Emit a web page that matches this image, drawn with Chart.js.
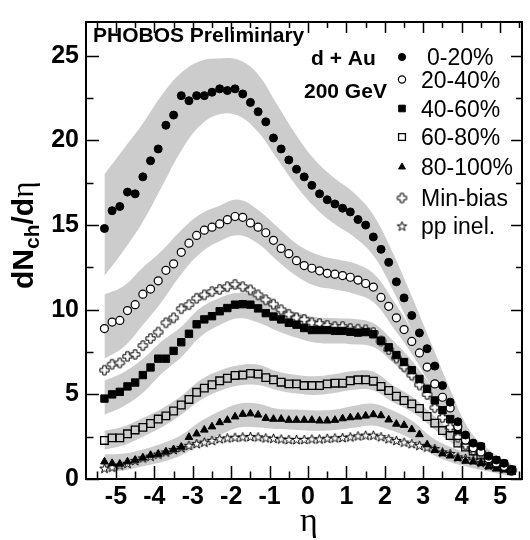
<!DOCTYPE html>
<html>
<head>
<meta charset="utf-8">
<script src="https://cdn.jsdelivr.net/npm/chart.js@4.4.1/dist/chart.umd.min.js"></script>
<style>
  html, body { margin: 0; padding: 0; background: #fff; }
  #wrap { width: 530px; height: 540px; }
</style>
</head>
<body>
<div id="wrap"><canvas id="dndeta"></canvas></div>
<script>
  // pseudorapidity bin centres
  const eta = [-5.3, -5.1, -4.9, -4.7, -4.5, -4.3, -4.1, -3.9, -3.7, -3.5, -3.3, -3.1, -2.9, -2.7, -2.5, -2.3, -2.1, -1.9, -1.7, -1.5, -1.3, -1.1, -0.9, -0.7, -0.5, -0.3, -0.1,
               0.1, 0.3, 0.5, 0.7, 0.9, 1.1, 1.3, 1.5, 1.7, 1.9, 2.1, 2.3, 2.5, 2.7, 2.9, 3.1, 3.3, 3.5, 3.7, 3.9, 4.1, 4.3, 4.5, 4.7, 4.9, 5.1, 5.3];

  // dN/deta per centrality class
  const c0_20 = [14.8, 15.85, 16.1, 16.95, 16.85, 17.85, 18.8, 19.5, 20.9, 21.5, 22.65, 22.35, 22.65, 22.65, 22.85, 23.05, 22.95, 23.05, 22.75, 22.25, 21.7, 21.1, 20.15, 19.5, 18.85, 18.3, 17.85,
                 17.35, 16.85, 16.5, 16.25, 16.0, 15.78, 15.33, 15.0, 14.3, 13.57, 12.8, 11.65, 10.7, 9.66, 8.63, 7.7, 6.67, 5.52, 4.54, 3.38, 2.6, 2.12, 1.93, 1.35, 1.12, 0.93, 0.54];
  const c20_40 = [8.89, 9.27, 9.37, 9.95, 10.3, 10.92, 11.22, 11.71, 12.33, 12.71, 13.39, 13.93, 14.39, 14.7, 14.88, 15.07, 15.32, 15.51, 15.46, 15.13, 14.88, 14.55, 14.1, 13.62, 13.31, 12.9, 12.61,
                  12.45, 12.3, 12.15, 12.1, 12.02, 11.92, 11.75, 11.55, 11.34, 10.73, 10.2, 9.52, 8.83, 8.13, 7.45, 6.61, 5.62, 4.83, 4.2, 3.1, 2.3, 1.85, 1.6, 1.2, 0.95, 0.75, 0.5];
  const c40_60 = [4.75, 5.0, 5.15, 5.47, 5.7, 6.14, 6.59, 7.11, 7.11, 7.57, 8.08, 8.58, 9.14, 9.43, 9.62, 9.91, 10.1, 10.3, 10.33, 10.3, 10.08, 9.8, 9.6, 9.43, 9.23, 9.12, 8.92,
                  8.8, 8.8, 8.8, 8.75, 8.75, 8.7, 8.65, 8.68, 8.55, 8.17, 7.78, 7.32, 6.91, 6.43, 5.91, 5.33, 4.64, 4.06, 3.54, 2.88, 2.28, 1.95, 1.9, 1.3, 1.1, 0.9, 0.55];
  const c60_80 = [2.28, 2.43, 2.43, 2.67, 2.9, 3.05, 3.28, 3.54, 3.73, 4.02, 4.37, 4.7, 5.12, 5.37, 5.57, 5.8, 5.95, 6.12, 6.14, 6.24, 6.2, 5.99, 5.86, 5.72, 5.62, 5.62, 5.52,
                  5.52, 5.52, 5.62, 5.66, 5.66, 5.8, 5.86, 5.86, 5.78, 5.47, 5.23, 4.89, 4.64, 4.44, 4.17, 3.69, 3.3, 2.86, 2.57, 2.12, 1.89, 1.65, 1.41, 1.1, 0.9, 0.75, 0.5];
  const c80_100 = [1.02, 0.93, 0.89, 1.02, 1.12, 1.25, 1.41, 1.47, 1.6, 1.74, 1.89, 2.47, 2.67, 2.9, 3.09, 3.34, 3.48, 3.68, 3.83, 3.86, 3.79, 3.59, 3.54, 3.54, 3.48, 3.48, 3.48,
                   3.48, 3.44, 3.44, 3.48, 3.57, 3.63, 3.67, 3.73, 3.81, 3.75, 3.5, 3.25, 3.18, 2.93, 2.63, 2.03, 1.7, 1.5, 1.37, 1.22, 1.06, 1.02, 0.93, 0.73, 0.6, 0.54, 0.44];
  const minBias = [6.43, 6.78, 6.86, 7.25, 7.36, 7.88, 8.3, 8.68, 9.23, 9.52, 10.06, 10.3, 10.68, 10.88, 11.07, 11.2, 11.36, 11.5, 11.36, 11.17, 10.88, 10.59, 10.33, 10.0, 9.73, 9.52, 9.43,
                   9.23, 9.18, 9.08, 9.0, 9.0, 8.89, 8.85, 8.81, 8.65, 8.15, 7.65, 7.15, 6.63, 6.14, 5.56, 4.99, 4.21, 3.63, 3.05, 2.47, 2.03, 1.7, 1.55, 1.2, 0.98, 0.78, 0.5];
  const ppInel = [0.64, 0.7, 0.83, 0.93, 1.1, 1.25, 1.35, 1.47, 1.6, 1.74, 1.86, 1.99, 2.09, 2.18, 2.28, 2.38, 2.43, 2.47, 2.49, 2.51, 2.49, 2.43, 2.41, 2.37, 2.34, 2.34, 2.34,
                  2.37, 2.37, 2.41, 2.43, 2.45, 2.49, 2.55, 2.59, 2.59, 2.5, 2.38, 2.28, 2.18, 2.09, 1.99, 1.89, 1.8, 1.6, 1.51, 1.31, 1.22, 1.12, 0.97, 0.83, 0.74, 0.64, 0.54];

  // systematic error bands (upper / lower edge)
  const bandEta = [-5.3, -4.8, -4.3, -3.8, -3.3, -2.8, -2.3, -1.8, -1.3, -0.8, -0.3, 0.2, 0.7, 1.2, 1.7, 2.2, 2.7, 3.2, 3.7, 4.2, 4.7, 5.3];
  const b0_20Hi = [18.0, 19.5, 21.0, 22.7, 24.0, 24.7, 24.85, 24.75, 23.9, 22.1, 20.3, 18.8, 17.75, 16.9, 15.6, 13.4, 10.8, 8.05, 5.3, 2.9, 1.75, 0.85];
  const b0_20Lo = [12.0, 13.5, 15.2, 17.3, 19.4, 20.9, 21.55, 21.45, 20.5, 18.9, 17.3, 16.0, 15.05, 14.3, 13.2, 11.2, 8.8, 6.35, 3.9, 1.9, 1.05, 0.35];
  const b20_40Hi = [10.9, 11.4, 12.5, 13.5, 14.7, 15.65, 16.15, 16.5, 15.9, 14.9, 13.9, 13.3, 13.0, 12.75, 12.15, 10.6, 8.8, 6.7, 4.7, 2.5, 1.5, 0.7];
  const b20_40Lo = [7.1, 7.8, 9.1, 10.5, 12.1, 13.35, 14.05, 14.4, 13.9, 12.9, 12.0, 11.4, 11.2, 10.95, 10.45, 9.0, 7.4, 5.5, 3.7, 1.7, 0.9, 0.3];
  const b40_60Hi = [5.8, 6.3, 7.1, 8.15, 9.0, 10.1, 10.7, 11.0, 10.85, 10.25, 9.85, 9.55, 9.5, 9.45, 9.2, 8.2, 7.0, 5.5, 3.95, 2.45, 1.55, 0.75];
  const b40_60Lo = [3.8, 4.3, 5.1, 6.25, 7.2, 8.4, 9.1, 9.5, 9.25, 8.75, 8.35, 8.05, 8.0, 7.95, 7.8, 6.9, 5.8, 4.5, 3.05, 1.75, 1.05, 0.35];
  const b60_80Hi = [2.85, 3.1, 3.6, 4.17, 4.9, 5.85, 6.4, 6.72, 6.75, 6.35, 6.15, 6.07, 6.2, 6.38, 6.33, 5.55, 4.87, 3.9, 2.9, 2.05, 1.35, 0.7];
  const b60_80Lo = [1.75, 2.0, 2.5, 3.07, 3.8, 4.65, 5.2, 5.52, 5.55, 5.25, 5.05, 4.97, 5.1, 5.28, 5.23, 4.55, 3.97, 3.1, 2.2, 1.45, 0.85, 0.3];
  const b80_100Hi = [1.45, 1.5, 1.75, 2.1, 2.6, 3.4, 4.0, 4.45, 4.45, 4.15, 4.1, 4.05, 4.1, 4.33, 4.45, 4.05, 3.45, 2.5, 1.9, 1.5, 1.15, 0.75];
  const b80_100Lo = [0.45, 0.5, 0.75, 1.0, 1.4, 2.1, 2.6, 3.05, 3.05, 2.95, 2.9, 2.85, 2.9, 3.03, 3.15, 2.85, 2.35, 1.5, 1.0, 0.7, 0.45, 0.15];

  const xTickLabels = [-5, -4, -3, -2, -1, 0, 1, 2, 3, 4, 5];
  const yTickLabels = [0, 5, 10, 15, 20, 25];
  const legendLabels = ['0-20%', '20-40%', '40-60%', '60-80%', '80-100%', 'Min-bias', 'pp inel.'];

  const BAND = '#cccccc';
  const SANS = '"Liberation Sans", Arial, sans-serif';

  function pts(xs, ys) {
    return xs.map((x, i) => ({ x: x, y: ys[i] }));
  }

  // hollow markers that Chart.js has no style for
  function markerCanvas(draw) {
    const c = document.createElement('canvas');
    c.width = 13; c.height = 13;
    const g = c.getContext('2d');
    draw(g, 6.5, 6.5);
    return c;
  }
  const openCross = markerCanvas((g, cx, cy) => {
    const a = 1.7, l = 4.6;
    g.beginPath();
    g.moveTo(cx - a, cy - l); g.lineTo(cx + a, cy - l); g.lineTo(cx + a, cy - a);
    g.lineTo(cx + l, cy - a); g.lineTo(cx + l, cy + a); g.lineTo(cx + a, cy + a);
    g.lineTo(cx + a, cy + l); g.lineTo(cx - a, cy + l); g.lineTo(cx - a, cy + a);
    g.lineTo(cx - l, cy + a); g.lineTo(cx - l, cy - a); g.lineTo(cx - a, cy - a);
    g.closePath();
    g.fillStyle = '#fff'; g.fill();
    g.lineWidth = 1; g.strokeStyle = '#000'; g.stroke();
  });
  const openStar = markerCanvas((g, cx, cy) => {
    g.beginPath();
    for (let k = 0; k < 10; k++) {
      const r = k % 2 ? 2.0 : 5.0;
      const ang = -Math.PI / 2 + k * Math.PI / 5;
      const px = cx + r * Math.cos(ang), py = cy + 0.5 + r * Math.sin(ang);
      if (k === 0) g.moveTo(px, py); else g.lineTo(px, py);
    }
    g.closePath();
    g.fillStyle = '#fff'; g.fill();
    g.lineWidth = 1; g.strokeStyle = '#000'; g.stroke();
  });

  // marker look for each series, shared by plot and legend
  const markers = [
    { style: 'circle', radius: 4.0, fill: '#000', border: 1 },
    { style: 'circle', radius: 4.0, fill: '#fff', border: 1.2 },
    { style: 'rect', radius: 5.2, fill: '#000', border: 1 },
    { style: 'rect', radius: 5.4, fill: 'rgba(0,0,0,0)', border: 1.3 },
    { style: 'triangle', radius: 4.4, fill: '#000', border: 1 },
    { style: openCross, radius: 5, fill: '#fff', border: 0 },
    { style: openStar, radius: 5, fill: '#fff', border: 0 }
  ];
  const series = [c0_20, c20_40, c40_60, c60_80, c80_100, minBias, ppInel];

  function bandSets(hi, lo) {
    return [
      { data: pts(bandEta, lo), borderColor: 'rgba(0,0,0,0)', borderWidth: 0, pointRadius: 0, tension: 0.4, fill: false, order: 10 },
      { data: pts(bandEta, hi), borderColor: 'rgba(0,0,0,0)', borderWidth: 0, pointRadius: 0, tension: 0.4, fill: '-1', backgroundColor: BAND, order: 10 }
    ];
  }

  const datasets = [].concat(
    bandSets(b0_20Hi, b0_20Lo),
    bandSets(b20_40Hi, b20_40Lo),
    bandSets(b40_60Hi, b40_60Lo),
    bandSets(b60_80Hi, b60_80Lo),
    bandSets(b80_100Hi, b80_100Lo)
  );
  series.forEach((vals, i) => {
    const m = markers[i];
    datasets.push({
      label: legendLabels[i],
      data: pts(eta, vals),
      showLine: false,
      pointStyle: m.style,
      pointRadius: m.radius,
      pointHoverRadius: m.radius,
      pointBackgroundColor: m.fill,
      pointBorderColor: '#000',
      pointBorderWidth: m.border,
      order: 1 + i
    });
  });

  // ROOT-like frame: inward ticks on all four sides, labels and legend
  const frameAndText = {
    id: 'frameAndText',
    afterDraw(chart) {
      const ctx = chart.ctx;
      const a = chart.chartArea;
      const xs = chart.scales.x, ys = chart.scales.y;
      ctx.save();
      ctx.strokeStyle = '#000';
      ctx.lineWidth = 1.5;
      ctx.beginPath();
      for (let v = -5.5; v <= 5.5; v += 0.5) {
        const px = Math.round(xs.getPixelForValue(v)) + 0.5;
        const major = Number.isInteger(v);
        ctx.moveTo(px, a.bottom); ctx.lineTo(px, a.bottom - (major ? 13 : 7.5));
        ctx.moveTo(px, a.top); ctx.lineTo(px, a.top + (major ? 11 : 6));
      }
      for (let v = 0; v <= 25; v += 2.5) {
        const py = Math.round(ys.getPixelForValue(v)) + 0.5;
        const major = v % 5 === 0;
        ctx.moveTo(a.left, py); ctx.lineTo(a.left + (major ? 13 : 7.5), py);
        ctx.moveTo(a.right, py); ctx.lineTo(a.right - (major ? 11 : 6), py);
      }
      ctx.stroke();
      ctx.lineWidth = 2;
      ctx.strokeRect(a.left, a.top, a.right - a.left, a.bottom - a.top);

      ctx.fillStyle = '#000';
      ctx.textAlign = 'left';
      ctx.textBaseline = 'alphabetic';
      ctx.font = 'bold 21px ' + SANS;
      ctx.fillText('PHOBOS Preliminary', 93, 42);
      ctx.fillText('d + Au', 311, 65);
      ctx.fillText('200 GeV', 304, 98);

      // legend
      const base = [65, 87.5, 116.5, 145, 175, 206, 234];
      ctx.font = '23px ' + SANS;
      legendLabels.forEach((txt, i) => {
        const m = markers[i];
        ctx.fillStyle = m.fill;
        ctx.strokeStyle = '#000';
        ctx.lineWidth = m.border;
        Chart.helpers.drawPoint(ctx, { pointStyle: m.style, radius: m.radius * 0.9, rotation: 0, borderWidth: m.border }, 402, base[i] - 8);
        ctx.fillStyle = '#000';
        ctx.fillText(txt, i === 0 ? 427 : 421, base[i]);
      });

      // axis titles
      ctx.font = '34px "Liberation Serif", serif';
      ctx.textAlign = 'center';
      ctx.fillText('\u03b7', 309, 531);

      ctx.translate(33, 289);
      ctx.rotate(-Math.PI / 2);
      ctx.textAlign = 'left';
      let u = 0;
      ctx.font = 'bold 30px ' + SANS;
      ctx.fillText('dN', u, 0); u += ctx.measureText('dN').width;
      ctx.font = 'bold 21px ' + SANS;
      ctx.fillText('ch', u, 6); u += ctx.measureText('ch').width;
      ctx.font = 'bold 30px ' + SANS;
      ctx.fillText('/d', u, 0); u += ctx.measureText('/d').width;
      ctx.font = '31px "Liberation Serif", serif';
      ctx.fillText('\u03b7', u, 0);
      ctx.restore();
    }
  };

  new Chart(document.getElementById('dndeta'), {
    type: 'line',
    data: { datasets: datasets },
    options: {
      responsive: true,
      maintainAspectRatio: false,
      animation: false,
      layout: { padding: { top: 12, right: 8, left: 0, bottom: 0 } },
      plugins: { legend: { display: false }, tooltip: { enabled: false } },
      scales: {
        x: {
          type: 'linear',
          min: -5.78,
          max: 5.57,
          grid: { display: false, drawTicks: false },
          border: { display: false },
          afterFit: (s) => { s.height = 61; },
          afterBuildTicks: (s) => { s.ticks = xTickLabels.map((v) => ({ value: v })); },
          ticks: {
            autoSkip: false,
            maxRotation: 0,
            padding: 3,
            color: '#000',
            font: { family: SANS, size: 25, weight: 'bold' },
            callback: (v) => String(v)
          }
        },
        y: {
          min: 0,
          max: 27,
          grid: { display: false, drawTicks: false },
          border: { display: false },
          afterFit: (s) => { s.width = 86; },
          ticks: {
            stepSize: 2.5,
            padding: 7,
            color: '#000',
            font: { family: SANS, size: 25, weight: 'bold' },
            callback: (v) => yTickLabels.includes(v) ? String(v) : ''
          }
        }
      }
    },
    plugins: [frameAndText]
  });
</script>
</body>
</html>
